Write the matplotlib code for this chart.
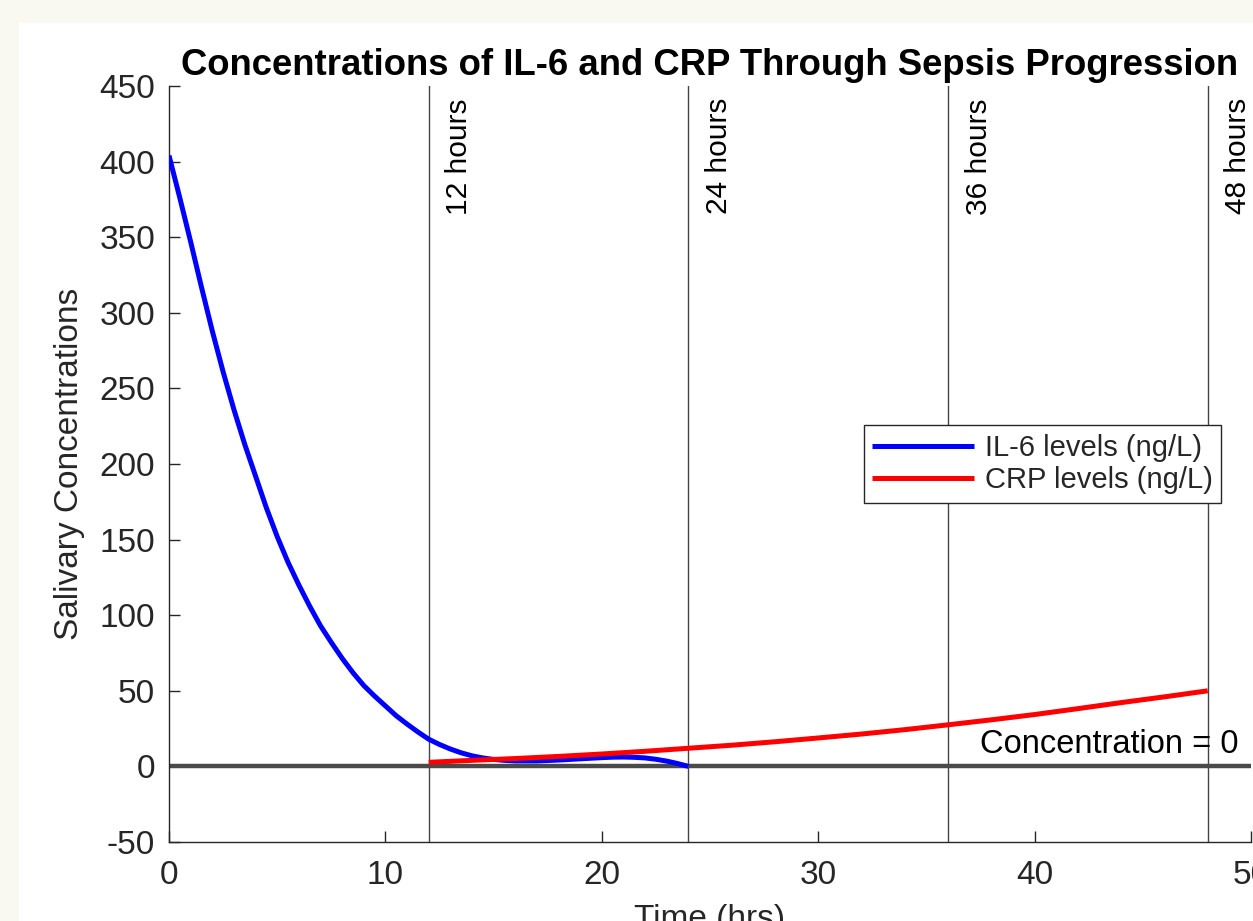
import matplotlib
matplotlib.use("Agg")
import matplotlib.pyplot as plt
from matplotlib.patches import Rectangle

plt.rcParams['font.family'] = ['Liberation Sans', 'DejaVu Sans']
plt.rcParams['axes.unicode_minus'] = False

# ---- data ----
il6_time = [0, 0.5, 1, 1.5, 2, 2.5, 3, 3.5, 4, 4.5, 5, 5.5, 6, 6.5, 7, 7.5, 8, 8.5, 9, 9.5,
            10, 10.5, 11, 11.5, 12, 12.5, 13, 13.5, 14, 14.5, 15, 15.5, 16, 17, 18, 19,
            20, 20.5, 21, 21.5, 22, 22.5, 23, 23.5, 24]
il6_level = [404, 376, 347, 317, 288, 261, 236, 213, 192, 171, 152, 135, 120, 106, 93, 82, 71.5, 62, 53.5, 46.5,
             40, 33.5, 28, 22.8, 18, 14.5, 11.5, 9, 7, 5.6, 4.6, 4.0, 3.6, 3.6, 4.2, 5.0,
             5.8, 6.1, 6.2, 6.0, 5.6, 4.7, 3.5, 1.9, 0]
crp_time = [12, 14, 16, 18, 20, 22, 24, 26, 28, 30, 32, 34, 36, 38, 40, 42, 44, 46, 48]
crp_level = [2.7, 4.0, 5.2, 6.6, 8.2, 10.0, 12.0, 14.0, 16.3, 18.8, 21.4, 24.3, 27.5, 30.8, 34.3, 38.2, 42.2, 46.0, 50.0]
marker_hours = [12, 24, 36, 48]
marker_labels = ['12 hours', '24 hours', '36 hours', '48 hours']
xticks = [0, 10, 20, 30, 40, 50]
yticks = [-50, 0, 50, 100, 150, 200, 250, 300, 350, 400, 450]
series_labels = ['IL-6 levels (ng/L)', 'CRP levels (ng/L)']
title = 'Concentrations of IL-6 and CRP Through Sepsis Progression'
xlabel = 'Time (hrs)'
ylabel = 'Salivary Concentrations'
zero_label = 'Concentration = 0'

AX = '#262626'
W, H = 1253, 921
fig = plt.figure(figsize=(W / 100, H / 100), dpi=100, facecolor='#f9f9f1')
bg = fig.add_axes([19 / W, 0, 1 - 19 / W, (H - 23) / H], zorder=-10)
bg.set_axis_off()
bg.add_patch(Rectangle((0, 0), 1, 1, transform=bg.transAxes, facecolor='white', edgecolor='none'))

ax = fig.add_axes([169 / W, (H - 842) / H, (1251 - 169) / W, (842 - 86) / H])
ax.set_facecolor('none')

ax.set_xlim(0, 50)
ax.set_ylim(-50, 450)
ax.set_xticks(xticks)
ax.set_yticks(yticks)
ax.spines['top'].set_visible(False)
ax.spines['right'].set_visible(False)
for s in ('left', 'bottom'):
    ax.spines[s].set_color(AX)
    ax.spines[s].set_linewidth(1.0)
ax.tick_params(direction='in', length=8, width=1.0, color=AX, labelcolor=AX,
               labelsize=24)
ax.tick_params(axis='x', pad=13)
ax.tick_params(axis='y', pad=10)

for h, lab in zip(marker_hours, marker_labels):
    ax.axvline(h, color='#454545', lw=1.0, zorder=1)
    ax.annotate(lab, xy=(h, 442), xycoords='data', xytext=(12, 0),
                textcoords='offset points', rotation=90, ha='left', va='top',
                fontsize=21.5, color='black')

ax.axhline(0, color='#4a4a4a', lw=3.2, zorder=2)
ax.text(49.4, 8.7, zero_label, ha='right', va='baseline', fontsize=23.5, color='black')

l1, = ax.plot(il6_time, il6_level, color='#0000ff', lw=3.6, zorder=3, label=series_labels[0],
              solid_capstyle='butt', solid_joinstyle='round')
l2, = ax.plot(crp_time, crp_level, color='#ff0000', lw=3.6, zorder=4, label=series_labels[1],
              solid_capstyle='butt', solid_joinstyle='round')

leg = ax.legend(loc='upper left', bbox_to_anchor=(0.642, 0.5516), borderaxespad=0,
                fontsize=21, handlelength=3.5, handletextpad=0.35, labelspacing=0.15,
                borderpad=0.3, fancybox=False, framealpha=1, edgecolor=AX)
leg.get_frame().set_linewidth(1.0)
for t in leg.get_texts():
    t.set_color(AX)

ax.set_title(title, fontsize=26.3, fontweight='bold', color='black', pad=8)
ax.set_xlabel(xlabel, fontsize=24, color=AX, labelpad=9)
ax.set_ylabel(ylabel, fontsize=24, color=AX, labelpad=10)

fig.savefig('out.png', dpi=100, facecolor=fig.get_facecolor())
